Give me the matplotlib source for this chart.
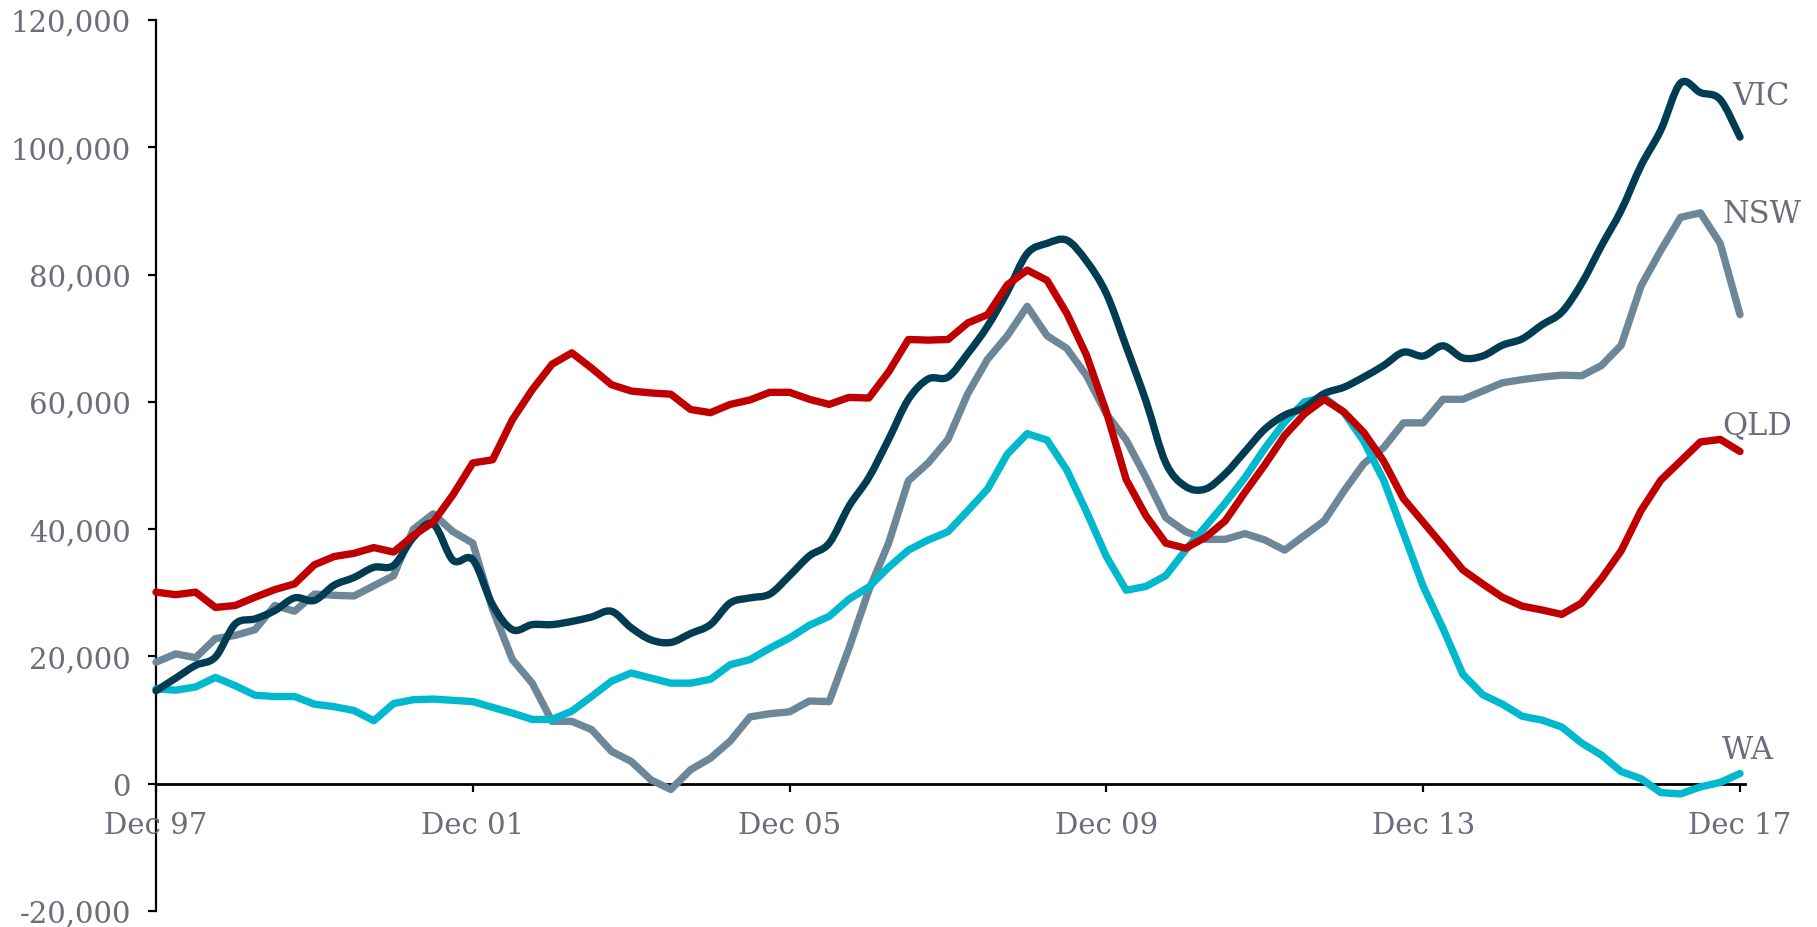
import numpy as np
import matplotlib
matplotlib.use("Agg")
import matplotlib.pyplot as plt
from matplotlib.path import Path
from matplotlib.patches import PathPatch

# Quarterly series, Dec 1997 to Dec 2017
vic = [14600, 16600, 18600, 19900, 25100, 25900, 27200, 29200, 28800, 31200,
       32400, 34000, 34300, 38700, 40800, 35100, 35200, 28100, 24200, 25000,
       25000, 25500, 26200, 27100, 24500, 22600, 22200, 23600, 25000, 28400,
       29200, 29800, 32700, 35800, 37800, 43600, 48100, 54100, 60400, 63600,
       63900, 67600, 71900, 77300, 83300, 84900, 85400, 82100, 77000, 68700,
       60100, 50400, 46700, 46300, 48700, 52200, 55700, 57900, 59100, 61300,
       62300, 63900, 65700, 67800, 67200, 68800, 66900, 67200, 68900, 69900,
       72100, 74100, 78600, 84500, 90100, 97100, 102700, 110100, 108600, 107500,
       101600]
nsw = [19100, 20400, 19800, 22800, 23300, 24200, 28000, 27100, 29800, 29600,
       29500, 31100, 32700, 40000, 42400, 39600, 37800, 27400, 19500, 15800,
       9800, 9800, 8500, 5100, 3500, 600, -900, 2200, 4000, 6700,
       10500, 11000, 11300, 13000, 12900, 21300, 30400, 37800, 47600, 50400,
       54100, 61300, 66700, 70400, 75000, 70400, 68400, 64100, 58100, 54000,
       48100, 41800, 39600, 38400, 38400, 39300, 38300, 36700, 39000, 41300,
       46000, 50300, 52800, 56700, 56700, 60400, 60400, 61700, 63000, 63500,
       63900, 64200, 64100, 65700, 68900, 78200, 83800, 89000, 89700, 84900,
       73700]
qld = [30100, 29700, 30100, 27700, 28000, 29300, 30500, 31400, 34400, 35700,
       36200, 37100, 36400, 39000, 41100, 45400, 50400, 50900, 57200, 61900,
       65900, 67700, 65300, 62700, 61700, 61400, 61200, 58800, 58300, 59600,
       60300, 61500, 61500, 60400, 59600, 60700, 60600, 64700, 69800, 69700,
       69800, 72400, 73700, 78400, 80700, 79100, 73900, 67300, 58400, 47800,
       42100, 37800, 37000, 38700, 41300, 45800, 50100, 54700, 58100, 60400,
       58400, 55200, 50700, 44800, 41100, 37400, 33600, 31400, 29300, 27900,
       27300, 26600, 28400, 32200, 36600, 42900, 47700, 50700, 53700, 54100,
       52200]
wa = [14900, 14700, 15200, 16700, 15400, 13900, 13700, 13700, 12500, 12100,
      11500, 9900, 12600, 13200, 13300, 13100, 12900, 12000, 11100, 10100,
      10100, 11400, 13700, 16100, 17400, 16600, 15800, 15800, 16400, 18700,
      19500, 21300, 22900, 24900, 26300, 29000, 30900, 34000, 36700, 38300,
      39600, 42900, 46300, 51800, 55000, 54000, 49300, 42700, 35700, 30400,
      31000, 32700, 36700, 40400, 44100, 48100, 52700, 56800, 60000, 60700,
      58300, 53800, 47700, 39400, 31000, 24400, 17200, 14000, 12500, 10600,
      10000, 8900, 6400, 4500, 1900, 800, -1400, -1600, -500, 200,
      1600]

tick_labels = ["Dec 97", "Dec 01", "Dec 05", "Dec 09", "Dec 13", "Dec 17"]
series_names = ["NSW", "WA", "VIC", "QLD"]

colors = {"VIC": "#003d52", "NSW": "#6d8799", "QLD": "#c00000", "WA": "#00b9cf"}
text_color = "#6b6c7c"
font = "DejaVu Serif"

plt.rcParams["font.family"] = [font]

W, H = 1817, 928
fig = plt.figure(figsize=(W / 100, H / 100), dpi=100)
x_left, x_right = 156, 1745
y_top, y_bot = 21, 912
ax = fig.add_axes([x_left / W, 1 - y_bot / H, (x_right - x_left) / W, (y_bot - y_top) / H])

q = np.arange(len(vic))
xmax = (len(vic) - 1) * (x_right - x_left) / (1740 - x_left)
ax.set_xlim(0, xmax)
ax.set_ylim(-20000, 120000)

lw = 5.3


def smooth_path(xs, ys):
    """Cardinal-spline bezier through every data point."""
    verts = [(xs[0], ys[0])]
    codes = [Path.MOVETO]
    n = len(xs)
    for k in range(n - 1):
        xa, ya = (xs[k - 1], ys[k - 1]) if k > 0 else (xs[k], ys[k])
        xd, yd = (xs[k + 2], ys[k + 2]) if k + 2 < n else (xs[k + 1], ys[k + 1])
        c1 = (xs[k] + (xs[k + 1] - xa) / 6, ys[k] + (ys[k + 1] - ya) / 6)
        c2 = (xs[k + 1] - (xd - xs[k]) / 6, ys[k + 1] - (yd - ys[k]) / 6)
        verts += [c1, c2, (xs[k + 1], ys[k + 1])]
        codes += [Path.CURVE4] * 3
    return Path(verts, codes)


data = {"VIC": vic, "NSW": nsw, "QLD": qld, "WA": wa}
for z, name in enumerate(series_names):
    vals = data[name]
    if name == "VIC":
        patch = PathPatch(smooth_path(q, vals), fill=False, edgecolor=colors[name],
                          lw=lw, capstyle="round", joinstyle="round", zorder=3 + z)
        patch.set_clip_on(False)
        ax.add_patch(patch)
    else:
        ax.plot(q, vals, color=colors[name], lw=lw, solid_capstyle="round",
                solid_joinstyle="round", zorder=3 + z, clip_on=False)

# Series labels at the right end
label_pos = {"VIC": (79.6, 108200), "NSW": (79.1, 89600),
             "QLD": (79.1, 56400), "WA": (79.1, 5300)}
for name, (lx, ly) in label_pos.items():
    ax.text(lx, ly, name, color=text_color, fontsize=22, ha="left", va="center",
            zorder=10)

# Axes styling
for s in ["top", "right"]:
    ax.spines[s].set_visible(False)
ax.spines["bottom"].set_position(("data", 0))
ax.spines["left"].set_linewidth(1.6)
ax.spines["bottom"].set_linewidth(2.0)
ax.spines["left"].set_zorder(1)
ax.spines["bottom"].set_zorder(1)

ax.set_yticks(np.arange(-20000, 120001, 20000))
ax.set_yticklabels([f"{v:,}" for v in range(-20000, 120001, 20000)])
ax.set_xticks(np.arange(0, len(vic), 16))
ax.set_xticklabels(tick_labels)

ax.tick_params(axis="y", direction="out", length=6, width=1.6, pad=12,
               labelsize=21, labelcolor=text_color)
ax.tick_params(axis="x", direction="out", length=6, width=1.6, pad=13.5,
               labelsize=21, labelcolor=text_color)

fig.savefig("out.png", dpi=100, facecolor="white")
